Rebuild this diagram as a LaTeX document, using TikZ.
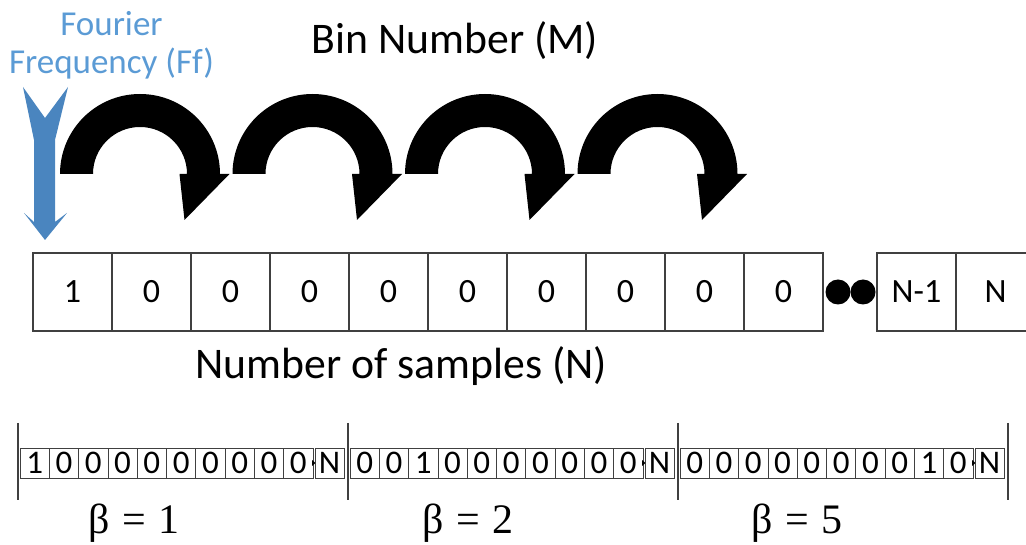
\documentclass[tikz,border=0pt]{standalone}
\usepackage{fontspec}
\setmainfont{Carlito}
\newfontfamily\grk{Liberation Serif}
\usetikzlibrary{positioning}
\definecolor{ffblue}{HTML}{5B9BD5}
\definecolor{arrowblue}{HTML}{4A85BF}
\definecolor{boxline}{HTML}{404040}

\begin{document}
\begin{tikzpicture}[x=1pt, y=1pt, node distance=0pt]
  \tikzstyle{cell}=[rectangle, draw=boxline, line width=1.1pt, minimum width=79pt, minimum height=78pt, inner sep=0pt, outer sep=0pt, font=\fontsize{34}{40}\selectfont]
  \tikzstyle{bit}=[rectangle, draw=boxline, line width=0.8pt, minimum width=29.3pt, minimum height=30pt, inner sep=0pt, outer sep=0pt, font=\fontsize{33}{38}\selectfont]
  \tikzstyle{dot}=[circle, fill=black, minimum size=25pt, inner sep=0pt, outer sep=0pt]
  \tikzstyle{heading}=[font=\fontsize{43.7}{52}\selectfont, inner sep=0pt, anchor=base]
  \tikzstyle{sep}=[draw=boxline, line width=1.2pt]
  \useasboundingbox (0,0) rectangle (1026,544);

  % hops from bin to bin
  \foreach \cx in {140,312.5,485,657.5}
    \fill (\cx-80,370) arc[start angle=180, end angle=0, radius=80] -- ++(9.5,0)
      -- (\cx+44.5,324) -- (\cx+39.5,370) -- (\cx+47,370)
      arc[start angle=0, end angle=180, radius=47] -- cycle;

  % Fourier frequency marker
  \fill[arrowblue] (23,457) -- (45,426) -- (68,457) -- (55,404) -- (55,322) -- (67,331)
    -- (45,304) -- (24,331) -- (34,322) -- (34,404) -- cycle;
  \node[text=ffblue, align=center, font=\fontsize{35}{38}\selectfont, inner sep=0pt] (ff) at (111.5,499) {Fourier\\Frequency (Ff)};

  \node[heading] (bin) at (455,490) {Bin Number (M)};

  % sample row
  \node[cell] (c1) at (72.5,252) {1};
  \node[cell, right=of c1] (c2) {0};
  \node[cell, right=of c2] (c3) {0};
  \node[cell, right=of c3] (c4) {0};
  \node[cell, right=of c4] (c5) {0};
  \node[cell, right=of c5] (c6) {0};
  \node[cell, right=of c6] (c7) {0};
  \node[cell, right=of c7] (c8) {0};
  \node[cell, right=of c8] (c9) {0};
  \node[cell, right=of c9] (c10) {0};
  \node[dot] (d1) at (838,252) {};
  \node[dot, right=of d1] (d2) {};
  \node[cell] (nm1) at (916.5,252) {N-1};
  \node[cell, right=of nm1] (nn) {N};

  \node[heading] (samples) at (401,165) {Number of samples (N)};

  % shifted rows
  \foreach \k/\one/\bx/\bv in {0/0/134/1, 1/2/468/2, 2/8/797/5} {
    \draw[sep] (18+330*\k,121) -- (18+330*\k,44);
    \foreach \i in {0,...,9} {
      \pgfmathtruncatemacro\bitval{\i==\one}
      \node[bit] (s\k-\i) at (18+330*\k+16.65+29.3*\i,81) {\bitval};
    }
    \fill (18+330*\k+294,84) -- (18+330*\k+297.5,81) -- (18+330*\k+294,78) -- cycle;
    \node[bit, minimum width=29pt] (s\k-n) at (18+330*\k+311.5,81) {N};
    \node[font=\grk\fontsize{42}{48}\selectfont, inner sep=0pt, anchor=base] (beta\k) at (\bx,11) {β\hspace{12pt}=\hspace{12pt}\bv};
  }
  \draw[sep] (1008,121) -- (1008,44);
\end{tikzpicture}
\end{document}
